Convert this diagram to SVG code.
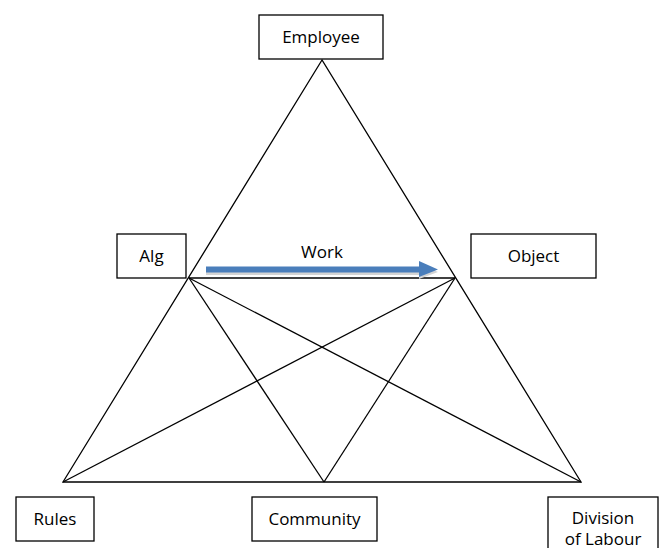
<svg xmlns="http://www.w3.org/2000/svg" width="662" height="548" viewBox="0 0 662 548">
  <style>
    .box { fill: #ffffff; stroke: #000000; stroke-width: 1.3; }
    .lbl { font-family: "Open Sans", "Liberation Sans", sans-serif; font-size: 17px; fill: #000000; text-anchor: middle; }
    .edge { stroke: #000000; stroke-width: 1.3; fill: none; }
  </style>
  <rect width="662" height="548" fill="#ffffff"/>

  <g id="connectors">
    <!-- outer triangle -->
    <polygon class="edge" points="322,60 63,482 581,482"/>
    <!-- mid line -->
    <line class="edge" x1="189" y1="278" x2="455" y2="278"/>
    <!-- cross lines -->
    <line class="edge" x1="189" y1="278" x2="324" y2="482"/>
    <line class="edge" x1="189" y1="278" x2="581" y2="482"/>
    <line class="edge" x1="455" y1="278" x2="63" y2="482"/>
    <line class="edge" x1="455" y1="278" x2="324" y2="482"/>
    <!-- work arrow with soft shadow -->
    <polygon points="206,269.5 419,269.5 419,263.5 438,272 419,279 419,275 206,275" fill="#d4d4d4"/>
    <polygon points="206,266.5 419,266.5 419,261 438,269.5 419,277 419,272.5 206,272.5" fill="#4a7ebb"/>
    <text class="lbl" x="322" y="258">Work</text>
  </g>

  <g id="employee">
    <rect class="box" x="259" y="15" width="124" height="44"/>
    <text class="lbl" x="321" y="43">Employee</text>
  </g>
  <g id="alg">
    <rect class="box" x="117" y="234" width="69" height="44"/>
    <text class="lbl" x="151.5" y="262">Alg</text>
  </g>
  <g id="object">
    <rect class="box" x="471" y="234" width="125" height="44"/>
    <text class="lbl" x="533.5" y="262">Object</text>
  </g>
  <g id="rules">
    <rect class="box" x="16" y="497" width="78" height="44"/>
    <text class="lbl" x="55" y="525">Rules</text>
  </g>
  <g id="community">
    <rect class="box" x="252" y="497" width="125" height="44"/>
    <text class="lbl" x="314.5" y="525">Community</text>
  </g>
  <g id="division">
    <rect class="box" x="548" y="497" width="110" height="60"/>
    <text class="lbl" x="603" y="524">Division</text>
    <text class="lbl" x="603" y="545">of Labour</text>
  </g>
</svg>
